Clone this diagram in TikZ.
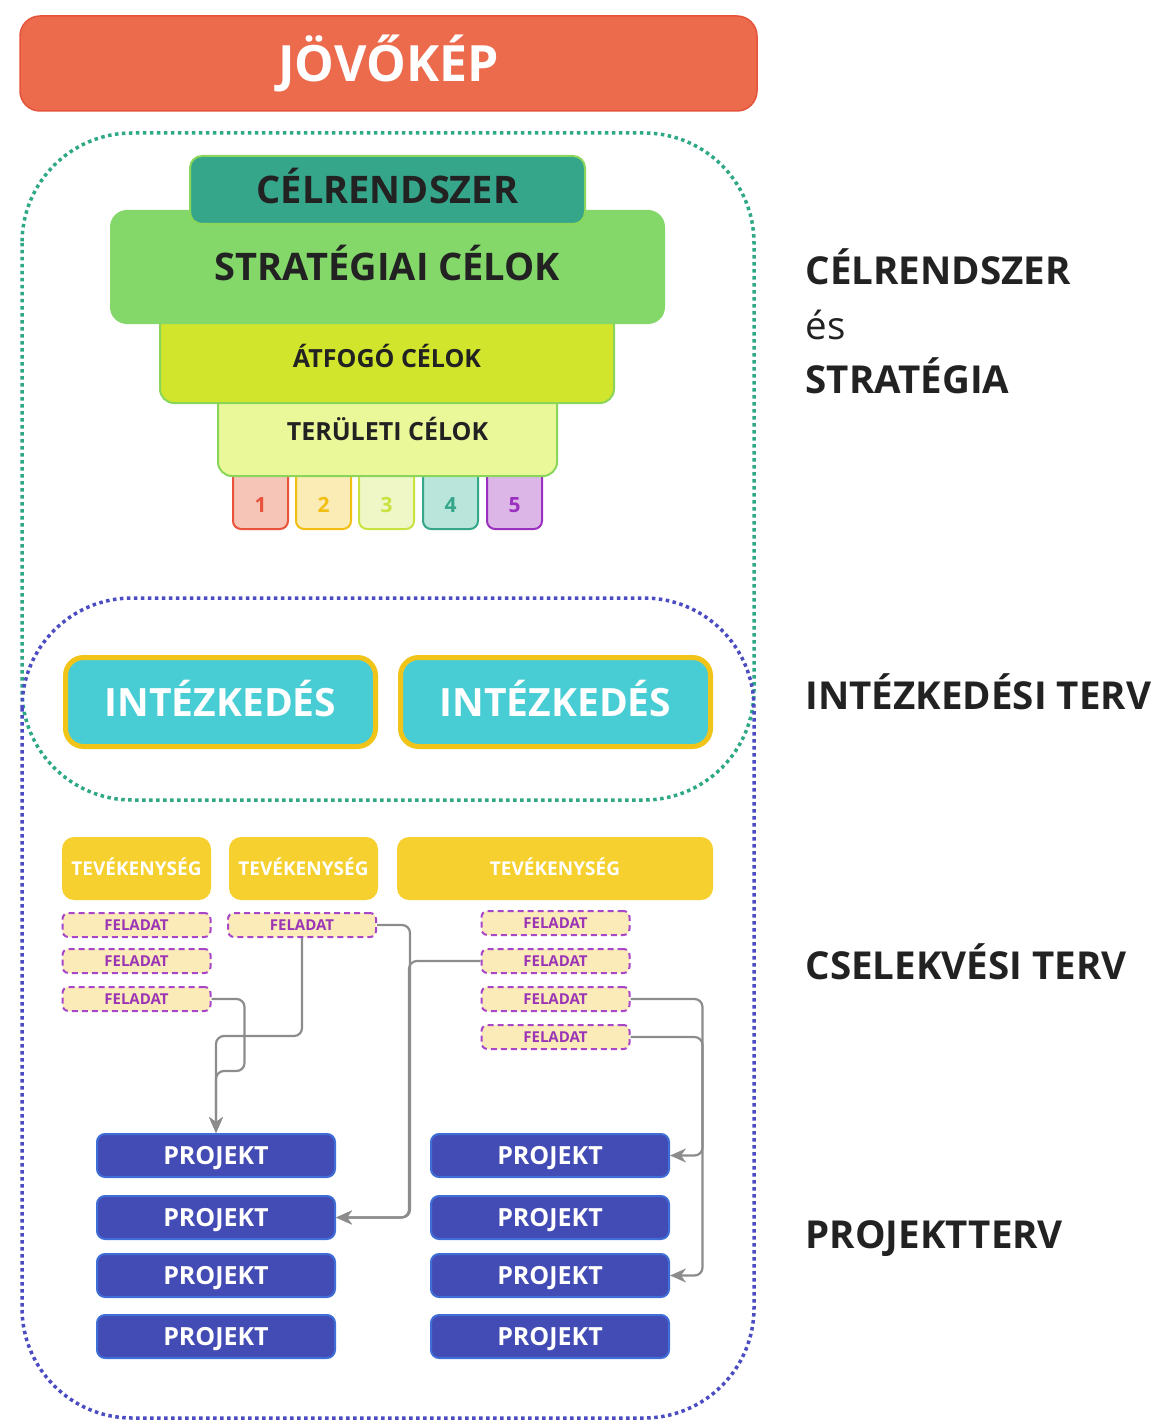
\documentclass[tikz,border=0pt]{standalone}
\usepackage{fontspec}
\setmainfont{Open Sans}
\usetikzlibrary{arrows.meta}

\definecolor{jovoFill}{HTML}{EC6B4D}
\definecolor{jovoLine}{HTML}{E5533A}
\definecolor{celrFill}{HTML}{35A68A}
\definecolor{stratFill}{HTML}{84D86A}
\definecolor{atfFill}{HTML}{D0E52C}
\definecolor{terFill}{HTML}{EBF89A}
\definecolor{tierLine}{HTML}{8AD65B}
\definecolor{txtDark}{HTML}{222222}
\definecolor{intFill}{HTML}{49CDD5}
\definecolor{intLine}{HTML}{F0C419}
\definecolor{tevFill}{HTML}{F5D02E}
\definecolor{felFill}{HTML}{FAEBB8}
\definecolor{felLine}{HTML}{A945C9}
\definecolor{felText}{HTML}{9B35B5}
\definecolor{projFill}{HTML}{434BB5}
\definecolor{projLine}{HTML}{3F6ED6}
\definecolor{linkGray}{HTML}{8C8C8C}
\definecolor{greenDot}{HTML}{2FA886}
\definecolor{blueDot}{HTML}{4B4CC2}
\definecolor{oneFill}{HTML}{F7C4B8}
\definecolor{oneLine}{HTML}{E8533A}
\definecolor{twoFill}{HTML}{FBEBB5}
\definecolor{twoLine}{HTML}{F2BE12}
\definecolor{threeFill}{HTML}{EFF7C7}
\definecolor{threeLine}{HTML}{C9E240}
\definecolor{fourFill}{HTML}{B9E5DA}
\definecolor{fourLine}{HTML}{35A68A}
\definecolor{fiveFill}{HTML}{DDB6E8}
\definecolor{fiveLine}{HTML}{9B2FC0}

\newcommand{\fsz}[1]{\fontsize{#1}{#1}\selectfont\bfseries}

\begin{document}
\begin{tikzpicture}[x=1pt, y=-1pt,
    capht/.style={text height=#1, text depth=0pt},
    jovo/.style={fill=jovoFill, draw=jovoLine, line width=1.5pt, rounded corners=20pt,
      minimum width=737pt, minimum height=95pt, inner sep=0pt, text=white, font=\fsz{50}, capht=36pt},
    tier/.style={draw=tierLine, line width=2pt, rounded corners=14pt, inner sep=0pt, text=txtDark},
    numtab/.style 2 args={fill=#1, draw=#2, text=#2, line width=2pt, rounded corners=8pt,
      minimum width=55pt, minimum height=67pt, inner sep=0pt, font=\fsz{21}, text height=33pt, text depth=0pt},
    intez/.style={fill=intFill, draw=intLine, line width=5pt, rounded corners=18pt,
      minimum width=310pt, minimum height=89pt, inner sep=0pt, text=white, font=\fsz{39}, capht=28pt},
    tev/.style={fill=tevFill, rounded corners=12pt, minimum height=63pt, inner sep=0pt,
      text=white, font=\fsz{19}, capht=13.5pt},
    fel/.style={fill=felFill, draw=felLine, dash pattern=on 6pt off 4pt, line width=2pt, rounded corners=6pt,
      minimum width=148pt, minimum height=24pt, inner sep=0pt, text=felText, font=\fsz{15}, capht=11pt},
    proj/.style={fill=projFill, draw=projLine, line width=2pt, rounded corners=8pt,
      minimum width=238pt, minimum height=43pt, inner sep=0pt, text=white, font=\fsz{25}, capht=18pt},
    link/.style={draw=linkGray, line width=2.2pt, rounded corners=8pt,
      -{Stealth[length=16pt, width=14pt, inset=5pt]}},
    side/.style={anchor=base west, text=txtDark, font=\fsz{38.5}},
    dotline/.style={draw=#1, line width=3.5pt, dash pattern=on 3.5pt off 3.5pt, rounded corners=110pt}]
    \useasboundingbox (0,0) rectangle (1155,1420);

    % top
    \node[jovo] (jovo) at (388.5,63.5) {JÖVŐKÉP};

    % dotted groups
    \draw[dotline=greenDot] (22,133) rectangle (754,800);
    \draw[dotline=blueDot] (22,598) rectangle (754,1418);

    % pyramid, drawn from the bottom up
    \node[numtab={oneFill}{oneLine}] (t1) at (260.5,495.5) {1};
    \node[numtab={twoFill}{twoLine}] (t2) at (323.5,495.5) {2};
    \node[numtab={threeFill}{threeLine}] (t3) at (386.5,495.5) {3};
    \node[numtab={fourFill}{fourLine}] (t4) at (450.5,495.5) {4};
    \node[numtab={fiveFill}{fiveLine}] (t5) at (514.5,495.5) {5};
    \node[tier, fill=terFill, minimum width=339pt, minimum height=92pt, font=\fsz{25}, text height=20pt, text depth=0pt]
      (terul) at (387.5,430) {TERÜLETI CÉLOK};
    \node[tier, fill=atfFill, minimum width=454pt, minimum height=94pt, font=\fsz{25}, text height=22pt, text depth=0pt]
      (atfogo) at (387,356) {ÁTFOGÓ CÉLOK};
    \node[tier, draw=stratFill, fill=stratFill, rounded corners=16pt, minimum width=553pt, minimum height=112pt,
      font=\fsz{38}, capht=27pt] (strat) at (387.5,267) {STRATÉGIAI CÉLOK};
    \node[tier, fill=celrFill, rounded corners=12pt, minimum width=395pt, minimum height=68pt,
      font=\fsz{38}, capht=27pt] (celr) at (387.5,190) {CÉLRENDSZER};

    % measures
    \node[intez] (int1) at (220.5,702) {INTÉZKEDÉS};
    \node[intez] (int2) at (555.5,702) {INTÉZKEDÉS};

    % activities
    \node[tev, minimum width=149pt] (tev1) at (136.5,868.5) {TEVÉKENYSÉG};
    \node[tev, minimum width=149pt] (tev2) at (303.5,868.5) {TEVÉKENYSÉG};
    \node[tev, minimum width=316pt] (tev3) at (555,868.5) {TEVÉKENYSÉG};

    % tasks
    \node[fel] (fL1) at (136.5,925) {FELADAT};
    \node[fel] (fL2) at (136.5,961) {FELADAT};
    \node[fel] (fL3) at (136.5,999) {FELADAT};
    \node[fel] (fM1) at (302,925) {FELADAT};
    \node[fel] (fR1) at (555.5,923) {FELADAT};
    \node[fel] (fR2) at (555.5,961) {FELADAT};
    \node[fel] (fR3) at (555.5,999) {FELADAT};
    \node[fel] (fR4) at (555.5,1037) {FELADAT};

    % projects
    \node[proj] (pL1) at (216,1155.5) {PROJEKT};
    \node[proj] (pL2) at (216,1217.5) {PROJEKT};
    \node[proj] (pL3) at (216,1275.5) {PROJEKT};
    \node[proj] (pL4) at (216,1336.5) {PROJEKT};
    \node[proj] (pR1) at (550,1155.5) {PROJEKT};
    \node[proj] (pR2) at (550,1217.5) {PROJEKT};
    \node[proj] (pR3) at (550,1275.5) {PROJEKT};
    \node[proj] (pR4) at (550,1336.5) {PROJEKT};

    % task -> project links
    \draw[link] (fL3.east) -- ++(33,0) -- ++(0,72) -| (pL1.north);
    \draw[link] (fM1.south) -- ++(0,98) -| (pL1.north);
    \draw[link] (fM1.east) -- ++(33,0) |- (pL2.east);
    \draw[link] (fR2.west) -| ([xshift=73pt]pL2.east) -- (pL2.east);
    \draw[link] (fR3.east) -- ++(72,0) |- (pR1.east);
    \draw[link] (fR4.east) -- ++(72,0) |- (pR3.east);

    % levels on the right
    \node[side] (lvl1) at (802,285) {CÉLRENDSZER};
    \node[side, font=\fontsize{38.5}{38.5}\selectfont] (lvl1b) at (802,339) {és};
    \node[side] (lvl1c) at (802,393) {STRATÉGIA};
    \node[side] (lvl2) at (802,709) {INTÉZKEDÉSI TERV};
    \node[side] (lvl3) at (802,979) {CSELEKVÉSI TERV};
    \node[side] (lvl4) at (802,1248) {PROJEKTTERV};
\end{tikzpicture}
\end{document}
